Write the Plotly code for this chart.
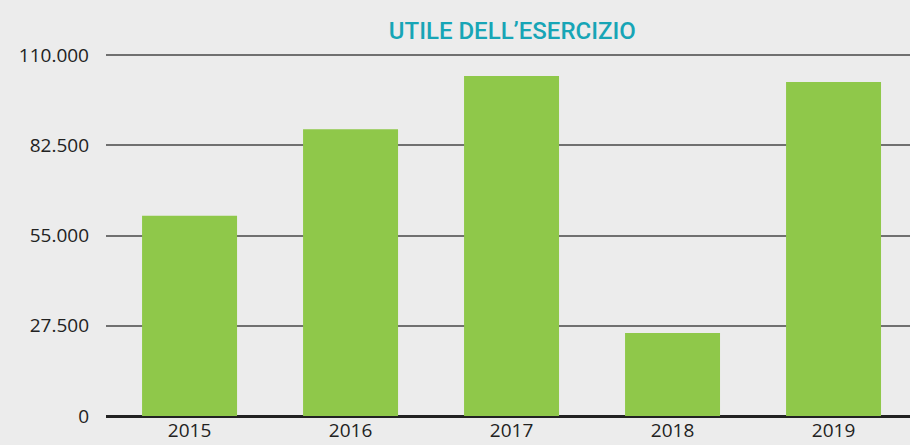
import plotly.graph_objects as go

years = ["2015", "2016", "2017", "2018", "2019"]
utile = [61000, 87400, 103600, 25300, 101800]
tick_vals = [0, 27500, 55000, 82500, 110000]
tick_text = ["0", "27.500", "55.000", "82.500", "110.000"]

fig = go.Figure(go.Bar(
    x=years, y=utile, marker=dict(color="#8fc84a", line=dict(width=0)),
    width=0.59,
))

fig.update_layout(
    width=910, height=445,
    margin=dict(l=106, r=0, t=53, b=29, autoexpand=False),
    paper_bgcolor="#ececec", plot_bgcolor="rgba(0,0,0,0)",
    showlegend=False,
    title=dict(text="UTILE DELL’ESERCIZIO", x=0.563, xanchor="center", y=0.932, yanchor="middle",
               font=dict(family="Roboto", size=24, color="#17a5b6", weight=500)),
    font=dict(family="Open Sans", color="#222222"),
)
fig.update_xaxes(
    type="category", range=[-0.519, 4.475], showgrid=False,
    showline=False, zeroline=False, ticks="", automargin=False,
    tickfont=dict(size=19, color="#222222"), ticklabelstandoff=1,
)
fig.update_yaxes(
    range=[0, 110000 * 363 / 361], tickvals=tick_vals, ticktext=tick_text,
    showgrid=True, gridcolor="#707070", gridwidth=2,
    zeroline=True, zerolinecolor="#222222", zerolinewidth=3,
    showline=False, ticks="", automargin=False,
    tickfont=dict(size=19, color="#222222"),
    ticklabelstandoff=16,
)

fig.write_html("out.html")
